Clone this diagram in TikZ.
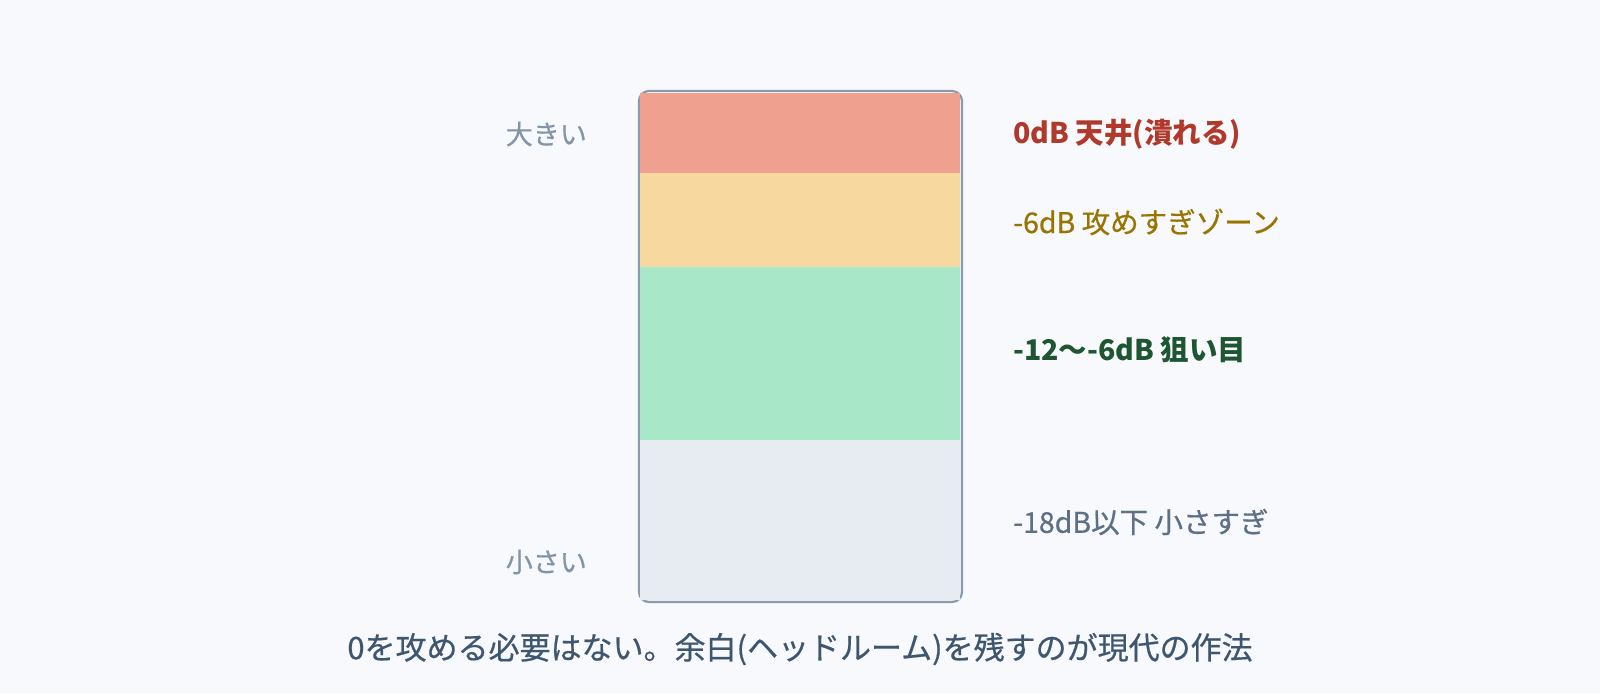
\documentclass[tikz,border=0pt]{standalone}
\usepackage{fontspec}
\setmainfont{Noto Sans CJK JP}
\newfontfamily\medfont[FakeBold=0.6]{Noto Sans CJK JP}
\definecolor{bg}{HTML}{F7F9FC}
\definecolor{zred}{HTML}{EFA08F}
\definecolor{zyel}{HTML}{F7D9A0}
\definecolor{zgrn}{HTML}{A8E8C9}
\definecolor{zgry}{HTML}{E7ECF3}
\definecolor{bord}{HTML}{8A9BB0}
\definecolor{tside}{HTML}{8395A7}
\definecolor{tred}{HTML}{B0392B}
\definecolor{tyel}{HTML}{9A7400}
\definecolor{tgrn}{HTML}{1E5631}
\definecolor{tgry}{HTML}{5D7087}
\definecolor{tcap}{HTML}{3E5670}
\tikzset{
  sidelbl/.style={anchor=east, text=tside, font=\medfont\fontsize{27}{31}\selectfont, inner sep=0pt},
  zonelbl/.style={anchor=west, font=\medfont\fontsize{28.5}{32}\selectfont, inner sep=0pt},
  zonebold/.style={anchor=west, font=\bfseries\fontsize{28.5}{32}\selectfont, inner sep=0pt}
}
\begin{document}
\begin{tikzpicture}[x=1pt,y=-1pt]
\fill[bg] (0,0) rectangle (1600,693);
\useasboundingbox (0,0) rectangle (1600,693);
\draw[bord, line width=2.2pt, rounded corners=10pt] (639,91) rectangle (962,602);
\fill[zred] (640,93) rectangle (960,173);
\fill[zyel] (640,173) rectangle (960,267);
\fill[zgrn] (640,267) rectangle (960,440);
\fill[zgry] (640,440) rectangle (960,600);
\node[sidelbl] (big) at (587,134) {大きい};
\node[sidelbl] (small) at (587,562) {小さい};
\node[zonebold, text=tred] (z0) at (1013,134) {0dB 天井(潰れる)};
\node[zonelbl, text=tyel] (z6) at (1013,222) {-6dB 攻めすぎゾーン};
\node[zonebold, text=tgrn] (z12) at (1013,350) {-12〜-6dB 狙い目};
\node[zonelbl, text=tgry] (z18) at (1013,522) {-18dB以下 小さすぎ};
\node[anchor=center, text=tcap, font=\medfont\fontsize{31}{35}\selectfont, inner sep=0pt] (cap) at (800,649) {0を攻める必要はない。余白(ヘッドルーム)を残すのが現代の作法};
\end{tikzpicture}
\end{document}
